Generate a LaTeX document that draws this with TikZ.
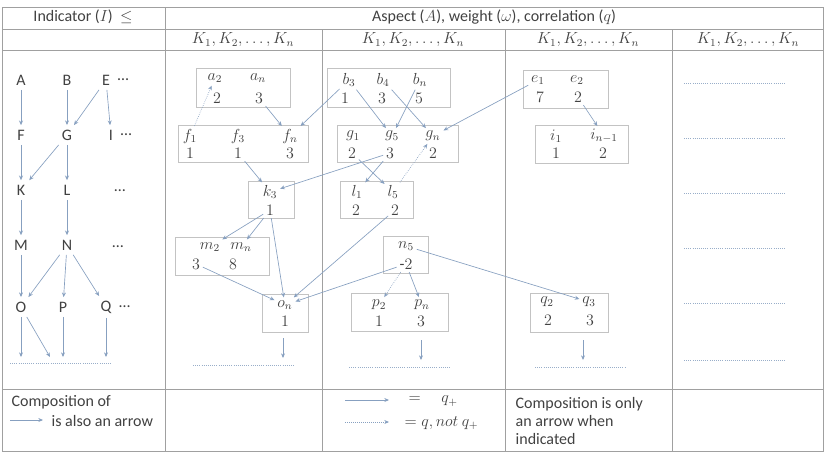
\documentclass[tikz,border=0pt]{standalone}
\usepackage{fontspec}
\setmainfont{Carlito}
\usetikzlibrary{arrows.meta}
\definecolor{tabline}{RGB}{160,160,160}
\definecolor{boxline}{RGB}{195,195,195}
\definecolor{arrowc}{RGB}{135,160,192}
\definecolor{txt}{RGB}{65,65,65}

\begin{document}
\begin{tikzpicture}[x=.75pt,y=-.75pt,font=\fontsize{12}{13.5}\selectfont,text=txt,
 tab/.style={draw=tabline,line width=.7pt},
 bx/.style={draw=boxline,line width=.6pt},
 arr/.style={draw=arrowc,line width=.5pt,-{Stealth[length=3.5pt,width=3pt]}},
 darr/.style={arr,densely dotted},
 dotrow/.style={draw=arrowc!85,densely dotted,line width=.6pt}]
\useasboundingbox (0,0) rectangle (827,458);
\draw[tab] (2,7) rectangle (823,451);
\foreach \y in {29,50,389} \draw[tab] (2,\y) -- (823,\y);
\draw[tab] (165,7) -- (165,451);
\foreach \x in {322,505,672} \draw[tab] (\x,29) -- (\x,451);
\node (hind) at (83,17) {Indicator ($I$) \ $\le$};
\node (hasp) at (494,17) {Aspect ($A$), weight ($\omega$), correlation ($q$)};
\foreach \x/\n in {243/a,413/b,588/c,748/d} \node (h\n) at (\x,40) {$K_1,K_2,\dots,K_n$};
% indicators
\foreach \n/\x/\y in {A/21/80,B/67/80,F/21/135,G/67/135,K/21/190,L/67/190,M/21/245,N/67/245,O/21/307,P/63/307}
 \node (\n) at (\x,\y) {\n};
\node (E) at (106,80) {E}; \node[anchor=west,inner sep=0] (Ed) at ([xshift=2pt]E.east) {…};
\node (I) at (111,135) {I}; \node[anchor=west,inner sep=0] (Id) at ([xshift=2pt]I.east) {…};
\node (Q) at (106,307) {Q}; \node[anchor=west,inner sep=0] (Qd) at ([xshift=2pt]Q.east) {…};
\node (Kd) at (120,191) {…};
\node (Md) at (118,247) {…};
\foreach \s/\t in {A/F,F/K,K/M,M/O,B/G,G/L,L/N,N/P,E/I,E/G,G/K,N/O,N/Q}
 \draw[arr] (\s) -- (\t);
\coordinate (lz1) at (21,357); \coordinate (lz2) at (50,357);
\coordinate (lz3) at (63,357); \coordinate (lz4) at (106,357);
\draw[arr] (O) -- (lz1); \draw[arr] (O) -- (lz2);
\draw[arr] (P) -- (lz3); \draw[arr] (Q) -- (lz4);
\draw[dotrow] (10,363) -- (111,363);
\node[anchor=west] (compa) at (7,402) {Composition of};
\coordinate (ca) at (10,420); \coordinate (cb) at (43,420);
\draw[arr] (ca) -- (cb);
\node[anchor=west] (compb) at (47,421) {is also an arrow};
% boxes
\draw[bx] (196,68) rectangle (290,107);
\draw[bx] (178,125) rectangle (308,162);
\draw[bx] (248,181) rectangle (294,218);
\draw[bx] (175,237) rectangle (269,275);
\draw[bx] (262,294) rectangle (308,332);
\draw[bx] (327,68) rectangle (450,107);
\draw[bx] (337,125) rectangle (458,162);
\draw[bx] (340,181) rectangle (413,218);
\draw[bx] (383,236) rectangle (428,273);
\draw[bx] (351,293) rectangle (448,331);
\draw[bx] (523,70) rectangle (608,108);
\draw[bx] (535,125) rectangle (628,163);
\draw[bx] (530,293) rectangle (608,332);
% aspects
\foreach \n/\x/\y/\t in {a2/215/78/a_2,an/258/78/a_n,a2v/217/98/2,anv/259/98/3,
 f1/190/136/f_1,f3/238/136/f_3,fn/290/136/f_n,f1v/190/153/1,f3v/238/153/1,fnv/290/153/3,
 k3/270/192/k_3,k3v/270/210/1,
 m2/210/247/m_2,mn/241/247/m_n,m2v/196/264/3,mnv/233/264/8,
 on/285/305/o_n,onv/285/321/1,
 b3/349/80/b_3,b4/383/80/b_4,bn/420/80/b_n,b3v/345/98/1,b4v/382/98/3,bnv/419/98/5,
 g1/353/136/g_1,g5/392/136/g_5,gn/433/136/g_n,g1v/352/153/2,g5v/390/153/3,gnv/433/153/2,
 l1/357/192/l_1,l5/393/192/l_5,l1v/356/210/2,l5v/395/210/2,
 n5/406/246/n_5,
 p2/379/305/p_2,pn/422/305/p_n,p2v/379/321/1,pnv/421/321/3,
 e1/538/80/e_1,e2/577/80/e_2,e1v/540/97/7,e2v/578/97/2,
 i1/556/136/i_1,inm/604/136/i_{n-1},i1v/556/153/1,inmv/603/153/2,
 q2/547/302/q_2,q3/589/302/q_3,q2v/548/320/2,q3v/590/320/3}
 \node[inner sep=2pt] (\n) at (\x,\y) {$\t$};
\node[inner sep=2pt] (n5v) at (406,264) {-$2$};
\draw[darr] (f1) -- (a2);
\draw[arr] (anv) -- (fn);
\draw[arr] (b3) -- (fn);
\draw[arr] (f3v) -- (k3);
\draw[arr] (g5v) -- (k3);
\draw[arr] (k3v) -- (m2);
\draw[arr] (k3v) -- (mn);
\draw[arr] (k3v) -- (on);
\draw[arr] (m2v) -- (on);
\draw[arr] (l5v) -- (on);
\draw[arr] (n5v) -- (on);
\draw[arr] (b3) -- (g5);
\draw[arr] (bn) -- (g5);
\draw[arr] (b4) -- (gn);
\draw[arr] (e1) -- (gn);
\draw[arr] (g5v) -- (l1);
\draw[arr] (g1v) -- (l5);
\draw[darr] (l5) -- (gn);
\draw[darr] (n5v) -- (p2);
\draw[arr] (n5v) -- (pn);
\draw[arr] (n5) -- (q3);
\draw[arr] (e2v) -- (inm);
% continuation rows
\coordinate (oa) at (283,338); \coordinate (ob) at (283,358);
\coordinate (pa) at (421,340); \coordinate (pb) at (421,360);
\coordinate (qa) at (583,340); \coordinate (qb) at (583,360);
\draw[arr] (oa) -- (ob); \draw[arr] (pa) -- (pb); \draw[arr] (qa) -- (qb);
\draw[dotrow] (193,365) -- (294,365);
\draw[dotrow] (349,367) -- (450,367);
\draw[dotrow] (535,367) -- (626,367);
\foreach \y in {83,138,193,248,303,360} \draw[dotrow] (684,\y) -- (785,\y);
% legend
\coordinate (sa) at (345,400); \coordinate (sb) at (389,400);
\coordinate (da) at (345,422); \coordinate (db) at (389,422);
\draw[arr] (sa) -- (sb);
\draw[darr] (da) -- (db);
\node[anchor=west] (eqa) at (404,401) {$=\quad q_+$};
\node[anchor=west] (eqb) at (400,423) {$=q, not\ q_+$};
\node[anchor=west,align=left] (compc) at (511,421) {Composition is only\\an arrow when\\indicated};
\end{tikzpicture}
\end{document}
